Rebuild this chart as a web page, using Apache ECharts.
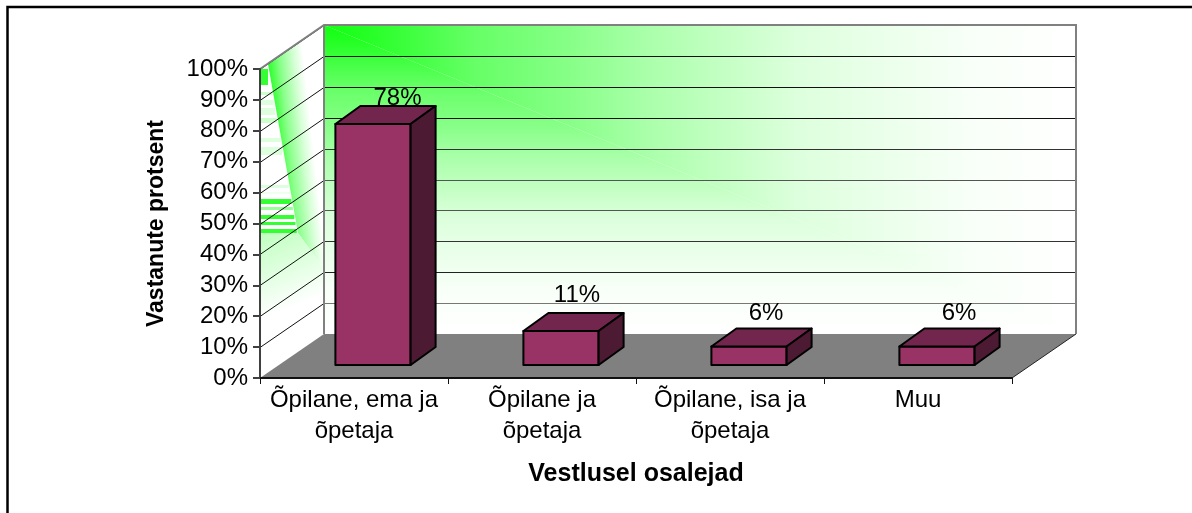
<!DOCTYPE html>
<html>
<head>
<meta charset="utf-8">
<style>html,body{margin:0;padding:0;background:#fff}#c{width:1192px;height:513px}</style>
<script src="https://cdn.jsdelivr.net/npm/echarts@6/dist/echarts.min.js"></script>
</head>
<body>
<div id="c"></div>
<script>
const categories = ['Õpilane, ema ja\nõpetaja', 'Õpilane ja\nõpetaja', 'Õpilane, isa ja\nõpetaja', 'Muu'];
const shares = [78, 11, 6, 6];
const shareTicks = [0, 10, 20, 30, 40, 50, 60, 70, 80, 90, 100];
const xTitle = 'Vestlusel osalejad';
const yTitle = 'Vastanute protsent';

// 3D layout (projection of the depth axis), not data
const DEPTH_X = 64, DEPTH_Y = 44;
const BAR_FRONT_X = 19, BAR_FRONT_Y = 13, BAR_DEPTH_X = 25, BAR_DEPTH_Y = 18, BAR_BAND = 0.4;
const LABEL_NUDGE = [[24.5, 26], [16, 36], [17, 33], [22, 33]];
const FONT = '"Liberation Sans", Arial, sans-serif';
const WALL_STOPS = [
  { offset: 0, color: '#11ff11' }, { offset: 0.05, color: '#22ff22' }, { offset: 0.2, color: '#66ff66' },
  { offset: 0.33, color: '#88ff88' }, { offset: 0.43, color: '#aaffaa' }, { offset: 0.63, color: '#ddffdd' },
  { offset: 0.86, color: '#f8fff8' }, { offset: 1, color: '#ffffff' }
];
const GRID_COLORS = { 10: '#777777', 20: '#222222', 30: '#333333', 40: '#555555', 50: '#555555', 60: '#333333' };
const SIDE_STRIPES = [
  [0, 16, '#33ff33'], [23, 3, '#ccffcc'], [31, 5, '#ddffdd'], [39, 7, '#ddffdd'], [49, 5, '#ccffcc'],
  [69, 4, '#ddffdd'], [78, 8, '#ddffdd'], [116, 3, '#ddffdd'], [123, 2, '#eeffee'],
  [130, 5, '#33ff33'], [138, 3, '#99ff99'], [146, 4, '#33ff33'], [153, 3, '#33ff33'], [160, 4, '#33ff33']
];
const LG = (x, y, x2, y2, stops) => new echarts.graphic.LinearGradient(x, y, x2, y2, stops, true);
const poly = (points, style) => ({ type: 'polygon', shape: { points }, style, silent: true });
const seg = (x1, y1, x2, y2, stroke, lineWidth) =>
  ({ type: 'line', shape: { x1, y1, x2, y2 }, style: { stroke, lineWidth, fill: null }, silent: true });

function renderScene(params, api) {
  const c = params.coordSys;
  const L = c.x, R = c.x + c.width, T = c.y, B = c.y + c.height;
  const dx = DEPTH_X, dy = DEPTH_Y;
  const kids = [];
  // back wall: "from corner" gradient, horizontal above the diagonal and vertical below it
  const wl = L + dx, wr = R + dx, wt = T - dy, wb = B - dy;
  kids.push(poly([[wl, wt], [wr, wt], [wr, wb]], { fill: LG(wl, wt, wr, wt, WALL_STOPS) }));
  kids.push(poly([[wl, wt], [wr, wb], [wl, wb]], { fill: LG(wl, wt, wl, wb, WALL_STOPS) }));
  // side wall
  kids.push(poly([[L, T], [L + dx, T - dy], [L + dx, B - dy], [L, B]], { fill: '#ffffff' }));
  kids.push(poly([[L + 8, T - 5], [L + dx, T - dy], [L + dx, T + 200], [L + 38, T + 164]], {
    fill: LG(L + 8, T + 4, L + 45, T, [
      { offset: 0, color: '#22ff22' }, { offset: 0.35, color: '#88ff88' },
      { offset: 0.75, color: '#d8ffd8' }, { offset: 1, color: '#ffffff' }
    ])
  }));
  kids.push(poly([[L, T + 164], [L + 38, T + 164], [L + dx, T + 200], [L + dx, T + 235], [L, T + 245]], {
    fill: LG(L + 20, T + 158, L + 50, T + 232, [
      { offset: 0, color: '#c0ffc0' }, { offset: 1, color: '#ffffff' }
    ])
  }));
  SIDE_STRIPES.forEach(s => {
    const e0 = L + 8 + s[0] * 0.18;
    kids.push({ type: 'rect', shape: { x: L, y: T + s[0], width: e0 - L, height: s[1] }, style: { fill: s[2] }, silent: true });
  });
  // floor
  kids.push(poly([[L, B], [R, B], [R + dx, B - dy], [L + dx, B - dy]], { fill: '#808080' }));
  kids.push(seg(R, B, R + dx, B - dy, '#222222', 1));
  // gridlines
  shareTicks.forEach(t => {
    const y = Math.round(api.coord([0, t])[1]) + 0.5;
    if (t > 0) {
      kids.push(seg(L, y, L + dx, y - dy, '#111111', 1));
      if (t < 100) kids.push(seg(L + dx, y - dy, R + dx, y - dy, GRID_COLORS[t] || '#111111', 1));
    }
  });
  // wall frame
  kids.push({ type: 'polyline', shape: { points: [[L, T], [L + dx, T - dy], [R + dx, T - dy], [R + dx, B - dy]] },
    style: { stroke: '#808080', lineWidth: 2, fill: null }, silent: true });
  kids.push(seg(L + dx, T - dy, L + dx, B - dy, '#808080', 2));
  return { type: 'group', children: kids };
}

function renderBar(params, api) {
  const i = api.value(0), v = api.value(1);
  const top = api.coord([i, v]), base = api.coord([i, 0]);
  const w = api.size([1, 0])[0] * BAR_BAND;
  const x0 = top[0] + BAR_FRONT_X - w / 2, x1 = x0 + w;
  const yT = top[1] - BAR_FRONT_Y, yB = base[1] - BAR_FRONT_Y;
  const ddx = BAR_DEPTH_X, ddy = BAR_DEPTH_Y;
  const edge = { stroke: '#000000', lineWidth: 2, lineJoin: 'round' };
  const n = LABEL_NUDGE[i];
  return { type: 'group', children: [
    { type: 'text', silent: true, style: {
      text: v + '%', x: top[0] + BAR_FRONT_X + n[0], y: yT - n[1],
      font: '24px ' + FONT, fill: '#000000', align: 'center', verticalAlign: 'middle' } },
    poly([[x0, yT], [x1, yT], [x1, yB], [x0, yB]], Object.assign({ fill: '#993366' }, edge)),
    poly([[x0, yT], [x0 + ddx, yT - ddy], [x1 + ddx, yT - ddy], [x1, yT]], Object.assign({ fill: '#73264d' }, edge)),
    poly([[x1, yT], [x1 + ddx, yT - ddy], [x1 + ddx, yB - ddy], [x1, yB]], Object.assign({ fill: '#4d1a33' }, edge))
  ]};
}

const chart = echarts.init(document.getElementById('c'), null, { renderer: 'canvas' });
chart.setOption({
  animation: false,
  backgroundColor: '#ffffff',
  graphic: [{ type: 'rect', z: 0, silent: true, shape: { x: 7.5, y: 7, width: 1400, height: 800 },
    style: { fill: null, stroke: '#000000', lineWidth: 2.5 } }],
  grid: { left: 260, right: 180, top: 69, bottom: 135, containLabel: false },
  xAxis: {
    type: 'category', data: categories, z: 5,
    name: xTitle, nameLocation: 'middle', nameGap: 84,
    nameTextStyle: { fontFamily: FONT, fontSize: 25, fontWeight: 'bold', color: '#000' },
    axisLine: { lineStyle: { color: '#111', width: 2 } },
    axisTick: { show: true, alignWithLabel: false, length: 6, lineStyle: { color: '#111', width: 1 } },
    axisLabel: { fontFamily: FONT, fontSize: 24, color: '#000', margin: 7, lineHeight: 31, interval: 0 }
  },
  yAxis: {
    type: 'value', min: 0, max: 100, interval: 10, z: 5,
    name: yTitle, nameLocation: 'middle', nameGap: 92, nameRotate: 90,
    nameTextStyle: { fontFamily: FONT, fontSize: 23, fontWeight: 'bold', color: '#000' },
    axisLine: { show: true, lineStyle: { color: '#404040', width: 2 } },
    axisTick: { show: true, length: 7, lineStyle: { color: '#404040', width: 2 } },
    axisLabel: { fontFamily: FONT, fontSize: 24, color: '#000', margin: 12, formatter: '{value}%' },
    splitLine: { show: false }
  },
  series: [
    { type: 'custom', name: 'scene', z: 1, silent: true, clip: false, renderItem: renderScene,
      data: [[0, 0]], encode: { x: 0, y: 1 } },
    { type: 'custom', name: 'Vastanute protsent', z: 3, silent: true, clip: false, renderItem: renderBar,
      data: shares.map((v, i) => [i, v]), encode: { x: 0, y: 1 } }
  ]
});
</script>
</body>
</html>
